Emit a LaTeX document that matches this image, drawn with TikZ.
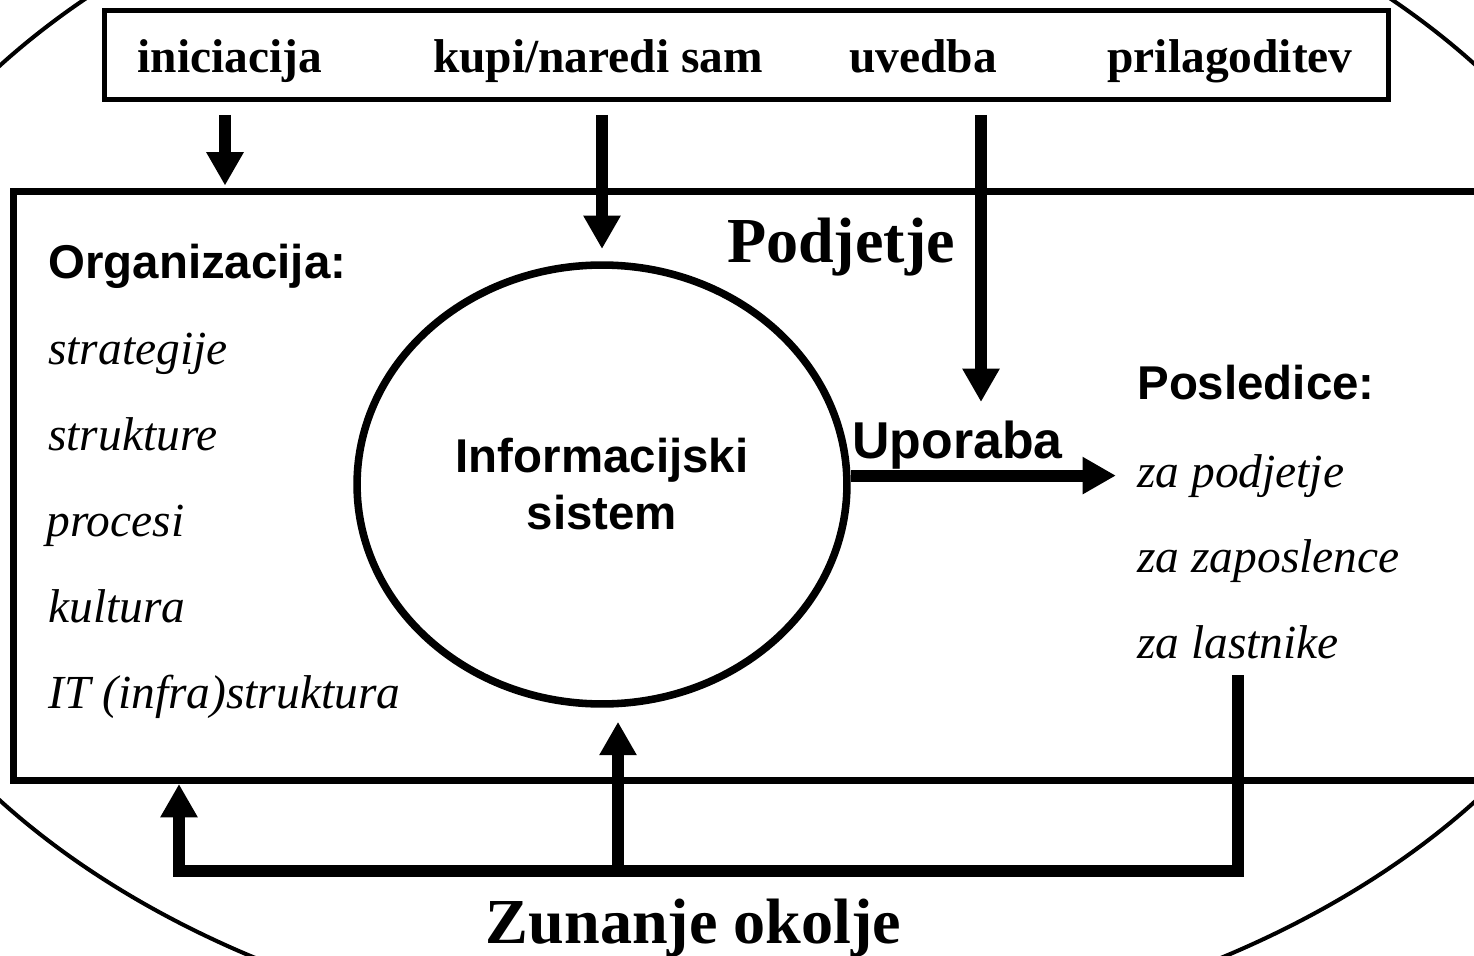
\documentclass[tikz,border=0pt]{standalone}
\usepackage{fontspec}
\setmainfont{Liberation Serif}
\setsansfont{Liberation Sans}
\usetikzlibrary{arrows.meta,shapes}

\begin{document}
\begin{tikzpicture}[x=0.02cm,y=-0.02cm,>={Triangle[width=20pt,length=19pt]}]

	\tikzstyle{phaselabel}=[font=\fontsize{27}{32}\selectfont\bfseries,anchor=base,inner sep=0pt]
	\tikzstyle{headlabel}=[font=\fontsize{27}{32}\selectfont\sffamily\bfseries,anchor=base west,inner sep=0pt]
	\tikzstyle{itemlabel}=[font=\fontsize{27}{32}\selectfont\itshape,anchor=base west,inner sep=0pt]
	\tikzstyle{titlelabel}=[font=\fontsize{36.5}{44}\selectfont\bfseries,anchor=base,inner sep=0pt]
	\tikzstyle{flow}=[->,line width=6.8pt]
	\tikzstyle{feedback}=[->,line width=6.3pt]

	\clip (0,0) rectangle (1474,956);

	% okolje
	\node [ellipse,draw,line width=2.3pt,minimum width=36.76cm,minimum height=24.68cm,inner sep=0pt] (env) at (738,433) {};

	% faze
	\node [draw,line width=2.85pt,minimum width=25.7cm,minimum height=1.79cm,inner sep=0pt] (phases) at (746.5,55) {};
	\node [phaselabel] (ini) at (230,73) {iniciacija};
	\node [phaselabel] (buy) at (598,73) {kupi/naredi sam};
	\node [phaselabel] (impl) at (923,73) {uvedba};
	\node [phaselabel] (adapt) at (1230,73) {prilagoditev};

	% podjetje
	\node [draw,line width=4pt,minimum width=30.3cm,minimum height=11.78cm,inner sep=0pt] (firm) at (770.5,486) {};
	\node [titlelabel] (podj) at (841,263) {Podjetje};

	\node [ellipse,draw,line width=4.3pt,minimum width=9.8cm,minimum height=8.78cm,inner sep=0pt,
		align=center,font=\fontsize{27}{32.4}\selectfont\sffamily\bfseries] (is) at (602,484.5) {Informacijski\\sistem};

	\node [headlabel] (org) at (48,278) {Organizacija:};
	\node [itemlabel] (o1) at (48,364) {strategije};
	\node [itemlabel] (o2) at (48,450) {strukture};
	\node [itemlabel] (o3) at (46,536) {procesi};
	\node [itemlabel] (o4) at (48,622) {kultura};
	\node [itemlabel] (o5) at (48,708) {IT (infra)struktura};

	\node [headlabel] (posl) at (1137,399) {Posledice:};
	\node [itemlabel] (c1) at (1137,487) {za podjetje};
	\node [itemlabel] (c2) at (1137,572) {za zaposlence};
	\node [itemlabel] (c3) at (1137,658) {za lastnike};

	\node [anchor=base west,inner sep=0pt,font=\fontsize{29.5}{35}\selectfont\sffamily\bfseries] (use) at (852,458) {Uporaba};

	\node [titlelabel] (zun) at (693.5,943) {Zunanje okolje};

	\coordinate (in1) at (225,99.5);
	\coordinate (in2) at (602,99.5);
	\coordinate (in3) at (981,99.5);
	\coordinate (use3) at (981,402);
	\coordinate (fbtop) at (1238,675);
	\coordinate (fbcorner) at (1238,871);
	\coordinate (fbleft) at (179,871);
	\coordinate (fbmid) at (618,871);

	\draw [flow,shorten <=8.8pt,shorten >=1.4pt] (in1) -- (in1 |- firm.north);
	\draw [flow,shorten <=8.8pt,shorten >=7pt] (in2) -- (is.north);
	\draw [flow,shorten <=8.8pt] (in3) -- (use3);
	\draw [flow,shorten >=12pt] (is.east |- c1.west) -- (c1.west);

	\draw [feedback] (fbtop) -- (fbcorner) -- (fbleft) -- (fbleft |- firm.south);
	\draw [feedback,shorten >=8pt] (fbmid) -- (fbmid |- is.south);
\end{tikzpicture}
\end{document}
